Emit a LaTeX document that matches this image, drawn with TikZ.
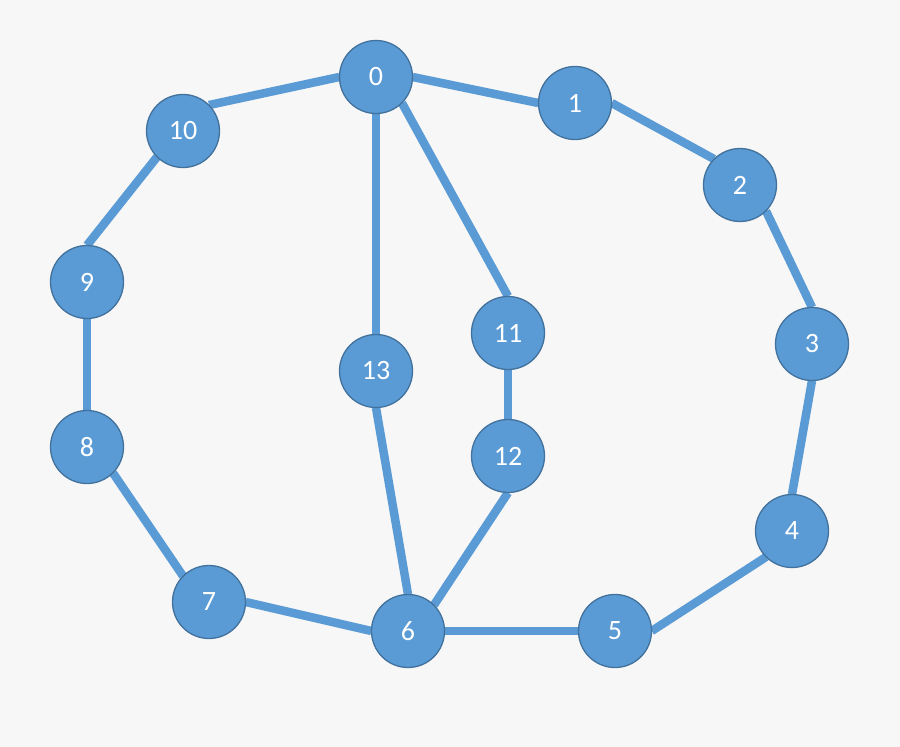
\documentclass[tikz,border=0pt]{standalone}
\usepackage{fontspec}
\setmainfont{Carlito}
\definecolor{bg}{HTML}{F7F7F7}
\definecolor{nodefill}{HTML}{5B9BD5}
\definecolor{nodeline}{HTML}{41719C}
\begin{document}
\begin{tikzpicture}[x=1pt,y=-1pt,
  vert/.style={circle,fill=nodefill,draw=nodeline,line width=1.3pt,minimum size=73pt,inner sep=0pt,text=white,font=\fontsize{28}{33}\selectfont},
  anch/.style={circle,minimum size=73pt,inner sep=0pt},
  edge/.style={draw=nodefill,line width=8.5pt}]
\fill[bg] (0,0) rectangle (900,747);
\useasboundingbox (0,0) rectangle (900,747);
\path (376,77) coordinate (c0) (575,103) coordinate (c1) (740,185) coordinate (c2)
 (812,344) coordinate (c3) (792,531) coordinate (c4) (615,631) coordinate (c5)
 (408,631) coordinate (c6) (209,602) coordinate (c7) (87,447) coordinate (c8)
 (87,282) coordinate (c9) (183,131) coordinate (c10) (508,333) coordinate (c11)
 (508,456) coordinate (c12) (376,371) coordinate (c13);
\foreach \i in {0,...,13} {\node[anch] (n\i) at (c\i) {};}
\draw[edge] (n0.west) -- (n10.north east);
\draw[edge] (n0.east) -- (n1.west);
\draw[edge] (n1.east) -- (n2.north west);
\draw[edge] (n2.south east) -- (n3.north);
\draw[edge] (n3.south) -- (n4.north);
\draw[edge] (n4.south west) -- (n5.east);
\draw[edge] (n5.west) -- (n6.east);
\draw[edge] (n6.west) -- (n7.east);
\draw[edge] (n7.north west) -- (n8.south east);
\draw[edge] (n8.north) -- (n9.south);
\draw[edge] (n9.north) -- (n10.south west);
\draw[edge] (n0.south) -- (n13.north);
\draw[edge] (n0.south east) -- (n11.north);
\draw[edge] (n11.south) -- (n12.north);
\draw[edge] (n13.south) -- (n6.north);
\draw[edge] (n12.south) -- (n6.north east);
\foreach \i in {0,...,13} {\node[vert] (v\i) at (c\i) {\i};}
\end{tikzpicture}
\end{document}
